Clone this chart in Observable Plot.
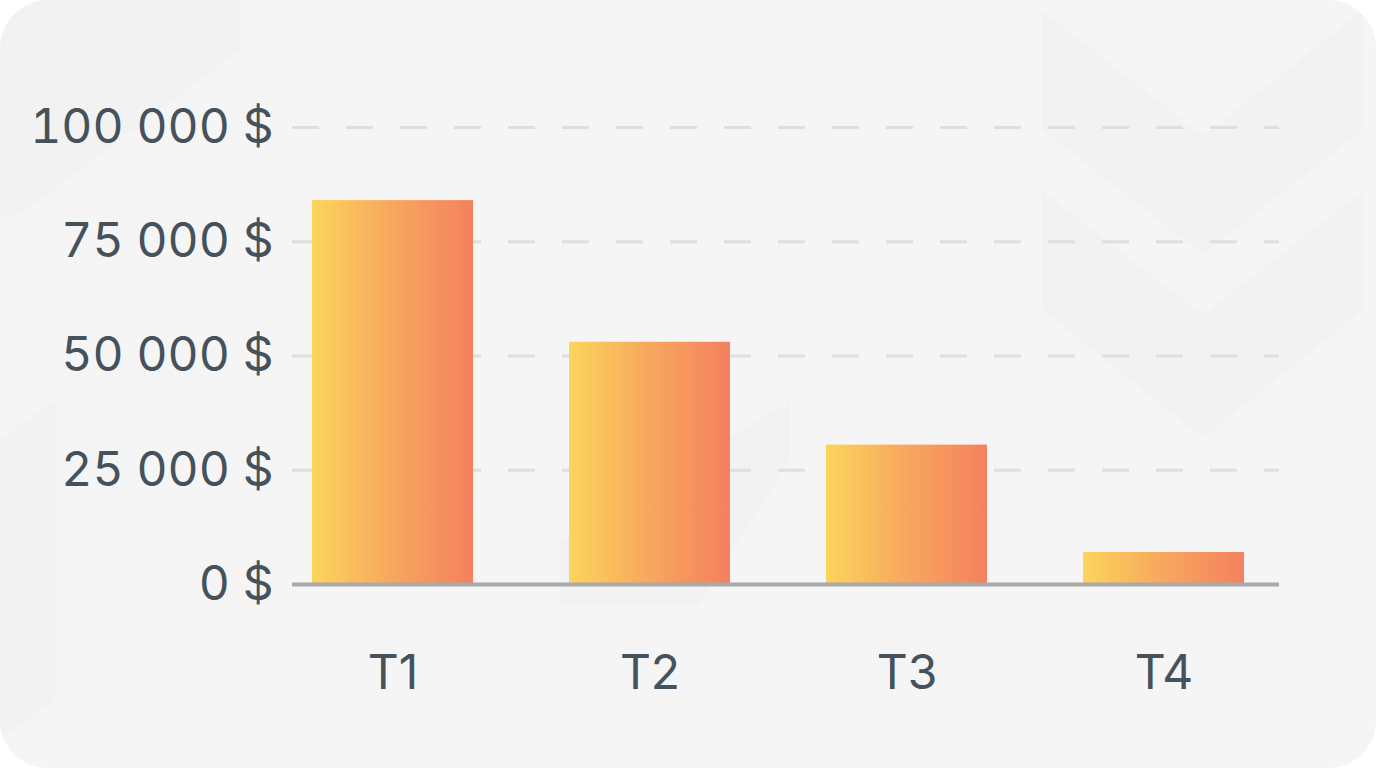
<!DOCTYPE html>
<html>
<head>
<meta charset="utf-8">
<script src="https://cdn.jsdelivr.net/npm/d3@7"></script>
<script src="https://cdn.jsdelivr.net/npm/@observablehq/plot@0.6"></script>
<style>
  html, body { margin: 0; padding: 0; background: #ffffff; }
  #card {
    position: relative;
    width: 1376px;
    height: 768px;
    border-radius: 48px;
    background: #f5f5f5;
    overflow: hidden;
  }
  #deco { position: absolute; left: 0; top: 0; }
  #chart { position: absolute; left: 0; top: 0; }
  #chart svg { background: transparent; }
</style>
</head>
<body>
<div id="card">
  <svg id="deco" width="1376" height="768" viewBox="0 0 1376 768">
    <!-- faint chevron backdrop -->
    <g fill="#000" fill-opacity="0.011">
      <polygon points="1042,10 1203,135 1363,10 1363,130 1203,255 1042,130"/>
      <polygon points="1042,190 1203,315 1363,190 1363,310 1203,438 1042,310"/>
      <polygon points="0,0 240,0 240,50 20,215 0,215"/>
      <polygon points="0,440 55,400 55,560 0,600"/>
      <polygon points="0,600 55,560 55,700 0,740"/>
      <polygon points="560,540 790,400 790,460 700,605 560,605"/>
    </g>
  </svg>
  <div id="chart"></div>
</div>
<script>
// Quarterly revenue
const quarters = ["T1", "T2", "T3", "T4"];
const revenue = [84000, 53000, 30500, 7000];
const yTicks = [0, 25000, 50000, 75000, 100000];

const data = quarters.map((q, i) => ({quarter: q, value: revenue[i]}));

// French-style thousands grouping with a trailing dollar sign
const fmt = d => d3.format(",")(d).replace(/,/g, " ") + " $";

const chart = Plot.plot({
  width: 1376,
  height: 768,
  marginLeft: 292,
  marginRight: 97,
  marginTop: 127,
  marginBottom: 184,
  style: {
    fontFamily: "Inter, 'Noto Sans', sans-serif",
    background: "transparent",
    color: "#46525b"
  },
  x: {
    domain: quarters,
    range: [311, 1246],
    paddingInner: 0.372,
    paddingOuter: 0,
    label: null
  },
  y: {
    domain: [0, 100000],
    label: null
  },
  marks: [
    Plot.ruleY(yTicks.filter(d => d > 0), {
      stroke: "#dfdfdf",
      strokeWidth: 3,
      strokeDasharray: "27,27"
    }),
    Plot.barY(data, {
      x: "quarter",
      y: "value",
      fill: "url(#barGradient)"
    }),
    Plot.ruleY([0], {stroke: "#a9a9a9", strokeWidth: 4}),
    Plot.axisY({
      ticks: yTicks,
      tickFormat: fmt,
      tickSize: 0,
      tickPadding: 19,
      fontSize: 48,
      label: null
    }),
    Plot.axisX({
      tickSize: 0,
      tickPadding: 70,
      fontSize: 48,
      label: null
    })
  ]
});

// horizontal yellow-to-coral fill shared by every bar
d3.select(chart).insert("defs", ":first-child").html(`
  <linearGradient id="barGradient" x1="0" y1="0" x2="1" y2="0">
    <stop offset="0%" stop-color="#fbd55b"/>
    <stop offset="45%" stop-color="#f8ab5e"/>
    <stop offset="100%" stop-color="#f4805f"/>
  </linearGradient>`);

document.getElementById("chart").appendChild(chart);
</script>
</body>
</html>
